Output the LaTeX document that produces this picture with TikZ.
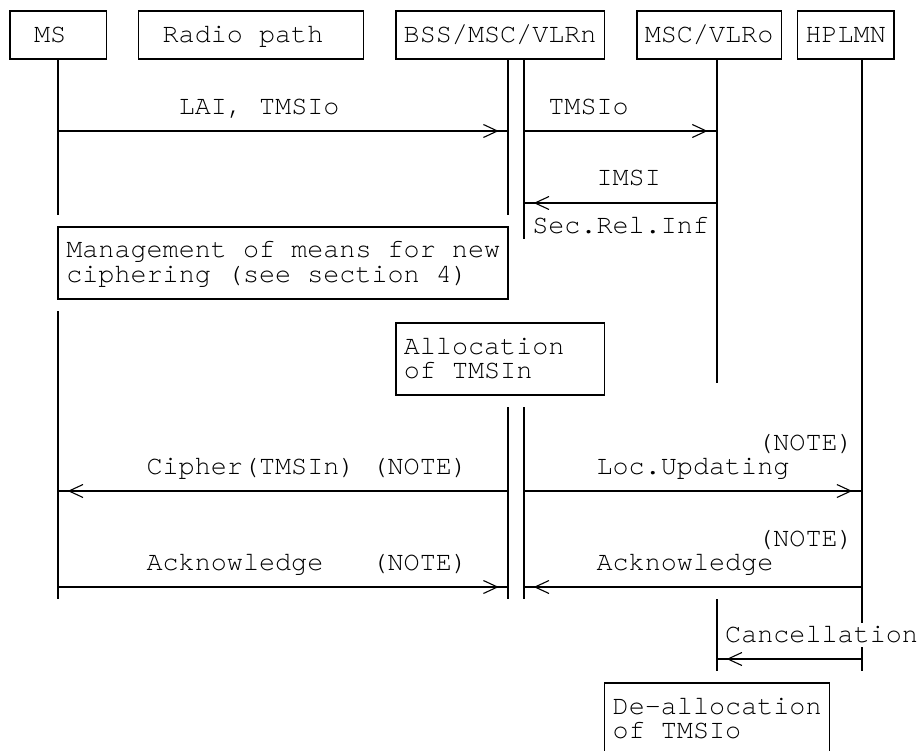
\documentclass[tikz,border=0pt]{standalone}
\usepackage{fontspec}
\setmainfont{texgyrecursor-regular.otf}
\usetikzlibrary{arrows.meta}
\begin{document}
\begin{tikzpicture}[x=1pt,y=-1pt,
  every node/.style={font=\fontsize{26.78pt}{24pt}\selectfont, outer sep=0pt},
  life/.style={line width=1.6pt},
  hdr/.style={draw, line width=1.6pt, inner xsep=0pt, inner ysep=0pt, text height=32pt, text depth=16pt, anchor=base},
  actbox/.style={draw, line width=1.6pt, inner sep=0pt, minimum height=72pt, anchor=north west},
  lbl/.style={inner sep=0pt, anchor=base west},
  msg/.style={line width=1.6pt},
  head/.style={line width=1.1pt, -{Straight Barb[length=14pt,width=13pt]}, shorten >=9.5pt},
]
\useasboundingbox (0,0) rectangle (920,751);
\clip (0,0) rectangle (920,751);

% header boxes
\node[hdr, minimum width=96.4pt]  (ms)    at (58.2,43)   {MS\phantom{M}};
\node[hdr, minimum width=224.9pt] (radio) at (251.05,43) {Radio path\phantom{M}};
\node[hdr, minimum width=208.9pt] (bss)   at (500.15,43) {BSS/MSC/VLRn};
\node[hdr, minimum width=144.7pt] (vlro)  at (709.05,43) {MSC/VLRo};
\node[hdr, minimum width=96.5pt]  (hplmn) at (845.65,43) {HPLMN};

% lifeline end points
\coordinate (msA) at (58.2,59);  \coordinate (msB) at (58.2,215);
\coordinate (msC) at (58.2,311); \coordinate (msD) at (58.2,599);
\coordinate (blA) at (508.2,59); \coordinate (blB) at (508.2,215);
\coordinate (blC) at (508.2,407); \coordinate (blD) at (508.2,599);
\coordinate (brA) at (524.2,59); \coordinate (brB) at (524.2,239);
\coordinate (brC) at (524.2,407); \coordinate (brD) at (524.2,599);
\coordinate (voA) at (717.1,59); \coordinate (voB) at (717.1,383);
\coordinate (voC) at (717.1,599); \coordinate (voD) at (717.1,671);
\coordinate (hpA) at (861.7,59); \coordinate (hpB) at (861.7,623);
\coordinate (hpC) at (861.7,647); \coordinate (hpD) at (861.7,671);

\draw[life] (msA) -- (msB) (msC) -- (msD);
\draw[life] (blA) -- (blB) (blC) -- (blD);
\draw[life] (brA) -- (brB) (brC) -- (brD);
\draw[life] (voA) -- (voB) (voC) -- (voD);
\draw[life] (hpA) -- (hpB) (hpC) -- (hpD);

% activity boxes
\node[actbox, minimum width=450pt]   (mgmt)    at (58.2,227) {};
\node[lbl] (mgmt1) at (66.3,258) {Management of means for new};
\node[lbl] (mgmt2) at (66.3,282) {ciphering (see section 4)};
\node[actbox, minimum width=208.9pt] (alloc)   at (395.7,323) {};
\node[lbl] (alloc1) at (403.8,354) {Allocation};
\node[lbl] (alloc2) at (403.8,378) {of TMSIn};
\node[actbox, minimum width=225pt]   (dealloc) at (604.6,683) {};
\node[lbl] (dealloc1) at (612.7,714) {De-allocation};
\node[lbl] (dealloc2) at (612.7,738) {of TMSIo};

% message end points
\coordinate (m1s) at (58.2,131);  \coordinate (m1e) at (508.2,131);
\coordinate (m2s) at (524.2,131); \coordinate (m2e) at (717.1,131);
\coordinate (m3s) at (717.1,203); \coordinate (m3e) at (524.2,203);
\coordinate (m4s) at (508.2,491); \coordinate (m4e) at (58.2,491);
\coordinate (m5s) at (524.2,491); \coordinate (m5e) at (861.7,491);
\coordinate (m6s) at (58.2,587);  \coordinate (m6e) at (508.2,587);
\coordinate (m7s) at (861.7,587); \coordinate (m7e) at (524.2,587);
\coordinate (m8s) at (861.7,659); \coordinate (m8e) at (717.1,659);

\foreach \i in {1,...,8}{
  \draw[msg] (m\i s) -- (m\i e);
  \draw[head] (m\i s) -- (m\i e);
}

% message labels
\node[lbl] (t1) at (178.8,115) {LAI, TMSIo};
\node[lbl] (t2) at (548.4,115) {TMSIo};
\node[lbl] (t3) at (596.6,186) {IMSI};
\node[lbl] (t3b) at (532.3,234) {Sec.Rel.Inf};
\node[lbl] (t4) at (146.6,474) {Cipher(TMSIn) (NOTE)};
\node[lbl] (t5n) at (757.3,450) {(NOTE)};
\node[lbl] (t5) at (596.6,474) {Loc.Updating};
\node[lbl] (t6) at (146.6,570) {Acknowledge\ \ \ (NOTE)};
\node[lbl] (t7n) at (757.3,546) {(NOTE)};
\node[lbl] (t7) at (596.6,570) {Acknowledge};
\node[lbl] (t8) at (725.2,642) {Cancellation};
\end{tikzpicture}
\end{document}
